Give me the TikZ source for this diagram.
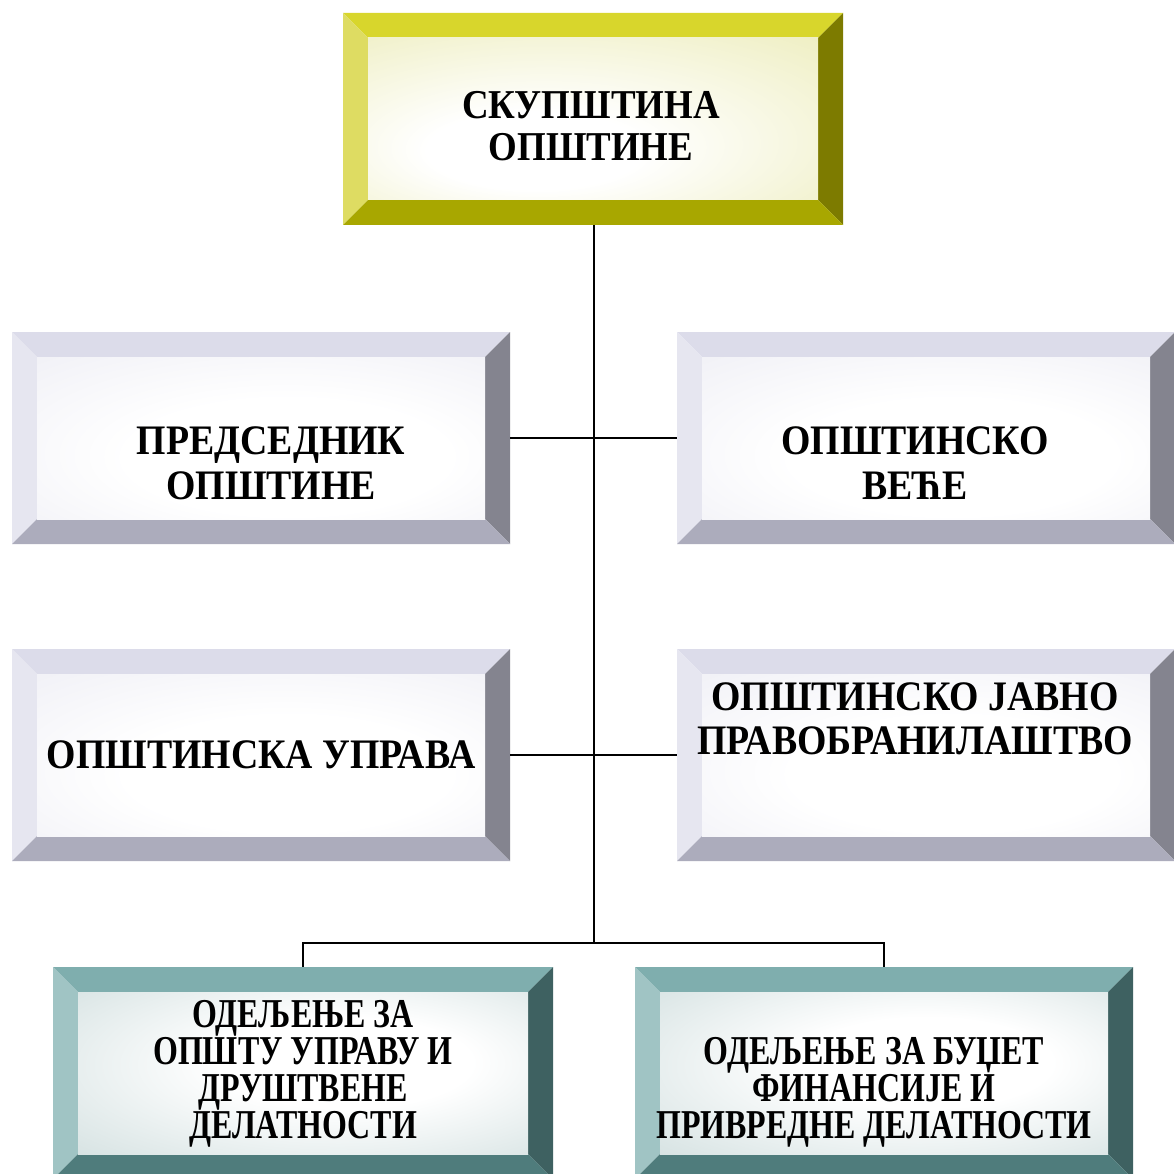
\documentclass[tikz,border=0pt]{standalone}
\usepackage{fontspec}
\setmainfont{Liberation Serif}[FakeStretch=0.9]
\newfontfamily\narrowfont{Liberation Serif}[FakeStretch=0.78]
\usetikzlibrary{calc}
\definecolor{yTop}{HTML}{D8D62C}\definecolor{yLeft}{HTML}{DEDC62}\definecolor{yRight}{HTML}{7D7B00}\definecolor{yBot}{HTML}{A8A700}\definecolor{yTint}{HTML}{E2E294}
\definecolor{gTop}{HTML}{DCDCEA}\definecolor{gLeft}{HTML}{E6E6F0}\definecolor{gRight}{HTML}{84848F}\definecolor{gBot}{HTML}{ACACBC}\definecolor{gTint}{HTML}{DEDEEB}
\definecolor{tTop}{HTML}{7FAEAE}\definecolor{tLeft}{HTML}{A0C4C4}\definecolor{tRight}{HTML}{3E6161}\definecolor{tBot}{HTML}{4F7C7C}\definecolor{tTint}{HTML}{A8C2C2}
\pgfdeclareradialshading{shY}{\pgfpoint{-8bp}{-12bp}}{color(0bp)=(white); color(12bp)=(white); color(64bp)=(yTint)}
\pgfdeclareradialshading{shG}{\pgfpoint{4bp}{-8bp}}{color(0bp)=(white); color(18bp)=(white); color(70bp)=(gTint)}
\pgfdeclareradialshading{shT}{\pgfpoint{6bp}{4bp}}{color(0bp)=(white); color(14bp)=(white); color(68bp)=(tTint)}
\newcommand{\bvw}{25pt}
\tikzset{
  bevelbox/.style n args={5}{rectangle, inner sep=0pt, minimum width=498pt, minimum height=212pt,
    path picture={
      \path (path picture bounding box.south west) coordinate (bSW)
            (path picture bounding box.north east) coordinate (bNE)
            (bSW |- bNE) coordinate (bNW) (bNE |- bSW) coordinate (bSE)
            ($(bNW)+(\bvw,-\bvw)$) coordinate (iNW) ($(bNE)+(-\bvw,-\bvw)$) coordinate (iNE)
            ($(bSE)+(-\bvw,\bvw)$) coordinate (iSE) ($(bSW)+(\bvw,\bvw)$) coordinate (iSW);
      \fill[#1] (bNW) -- (bNE) -- (iNE) -- (iNW) -- cycle;
      \fill[#2] (bSW) -- (bNW) -- (iNW) -- (iSW) -- cycle;
      \fill[#3] (bNE) -- (bSE) -- (iSE) -- (iNE) -- cycle;
      \fill[#4] (bSE) -- (bSW) -- (iSW) -- (iSE) -- cycle;
      \shade[shading=#5] (iSW) rectangle (iNE);
    }},
  ybox/.style={bevelbox={yTop}{yLeft}{yRight}{yBot}{shY}},
  gbox/.style={bevelbox={gTop}{gLeft}{gRight}{gBot}{shG}},
  tbox/.style={bevelbox={tTop}{tLeft}{tRight}{tBot}{shT}},
  lbl/.style={align=center, inner sep=0pt, font=\bfseries\fontsize{41}{#1}\selectfont},
  lbl/.default=44,
  midlbl/.style={align=center, inner sep=0pt, font=\bfseries\fontsize{42}{#1}\selectfont},
  midlbl/.default=44,
  botlbl/.style={align=center, inner sep=0pt, font=\narrowfont\bfseries\fontsize{41}{37}\selectfont},
  conn/.style={line width=1.6pt, black}
}
\begin{document}
\lineskiplimit=-60pt
\begin{tikzpicture}[x=1pt, y=-1pt]
\useasboundingbox[fill=white] (0,0) rectangle (1174,1174);
% boxes
\node[ybox, minimum width=500pt] (top) at (593,119) {};
\node[gbox] (pred) at (261,438) {};
\node[gbox] (vece) at (926,438) {};
\node[gbox] (uprava) at (261,755) {};
\node[gbox] (pravo) at (926,755) {};
\node[tbox, minimum width=500pt] (od1) at (303,1073) {};
\node[tbox] (od2) at (884,1073) {};
% labels
\node[lbl=42] (topT) at (591,126) {СКУПШТИНА\\ОПШТИНЕ};
\node[midlbl=45] (predT) at (271,463) {ПРЕДСЕДНИК\\ОПШТИНЕ};
\node[midlbl=45] (veceT) at (915,463) {ОПШТИНСКО\\ВЕЋЕ};
\node[midlbl] (upravaT) at (261,755) {ОПШТИНСКА УПРАВА};
\node[midlbl=44] (pravoT) at (915,719) {ОПШТИНСКО ЈАВНО\\ПРАВОБРАНИЛАШТВО};
\node[botlbl] (od1T) at (303,1074) {ОДЕЉЕЊЕ ЗА\\ОПШТУ УПРАВУ И\\ДРУШТВЕНЕ\\ДЕЛАТНОСТИ};
\node[botlbl] (od2T) at (874,1092) {ОДЕЉЕЊЕ ЗА БУЏЕТ\\ФИНАНСИЈЕ И\\ПРИВРЕДНЕ ДЕЛАТНОСТИ};
% connectors
\coordinate (j) at (594,943);
\draw[conn] (top.south -| j) -- (j);
\draw[conn] (pred.east) -- (vece.west);
\draw[conn] (uprava.east) -- (pravo.west);
\draw[conn] (od1.north) |- (j) -| (od2.north);
\end{tikzpicture}
\end{document}
